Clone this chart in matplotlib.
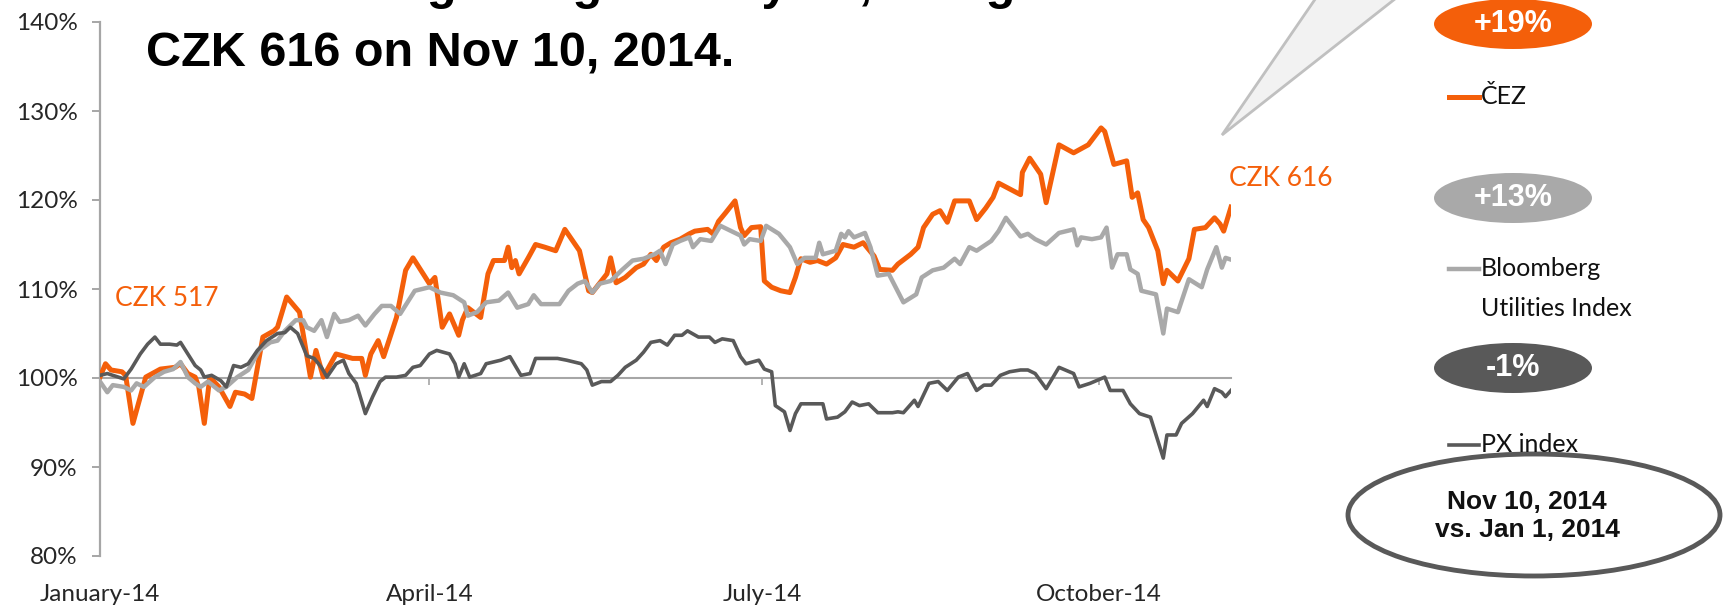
import matplotlib
matplotlib.use("Agg")
import matplotlib.pyplot as plt
import pandas as pd
from matplotlib.patches import Ellipse, Polygon
from matplotlib.lines import Line2D

plt.rcParams['font.family'] = ['Lato', 'DejaVu Sans']

# ---------------- data ----------------
START = pd.Timestamp('2014-01-01')
tick_dates = ['2014-01-01', '2014-04-01', '2014-07-01', '2014-10-01']
tick_labels = ['January-14', 'April-14', 'July-14', 'October-14']
y_ticks = [80, 90, 100, 110, 120, 130, 140]

series_names = ['ČEZ', 'Bloomberg\nUtilities Index', 'PX index']
badge_labels = ['+19%', '+13%', '-1%']

cez_day = [0, 1.5, 3, 6, 7, 9, 12.5, 16.5, 20.5, 22,
           24, 26, 27, 28.5, 30, 32.5, 35.5, 37, 39.5, 41.5,
           44.5, 47.5, 48.5, 51, 54.5, 57.5, 59, 61, 64.5, 69,
           71.5, 72.5, 74, 76, 77.5, 81, 83.5, 85.5, 90, 91.5,
           93.5, 95.5, 98, 99, 100.5, 104, 106, 107.5, 110.5, 111.5,
           112.5, 113.5, 114.5, 117, 119, 121.5, 124.5, 127, 128.5, 131,
           133.5, 134.5, 137, 138.5, 139.5, 141, 143.5, 146.5, 148.5, 150.5,
           152, 154, 156, 158.5, 161, 162.5, 166, 167.5, 169, 171,
           173.5, 175, 176, 178, 180.5, 181.5, 183.5, 186, 188.5, 190,
           191.5, 194, 196, 198.5, 201, 203, 206, 208.5, 211.5, 213,
           216.5, 218, 221.5, 223.5, 225, 227.5, 229.5, 231.5, 233.5, 237.5,
           239.5, 242, 244, 245.5, 251.5, 252, 254, 257, 258.5, 262,
           266, 270, 273.5, 274.5, 277, 280.5, 282, 283.5, 285, 286.5,
           289, 290.5, 291.5, 294.5, 297.5, 299, 302, 304.5, 306, 307,
           309]
cez_val = [100.1, 101.6, 100.9, 100.7, 100.3, 94.9, 100.1, 101.0, 101.2, 101.6,
           100.5, 100.1, 99.0, 94.9, 100.1, 99.0, 96.8, 98.4, 98.2, 97.7,
           104.6, 105.3, 105.7, 109.1, 107.4, 100.1, 103.1, 100.1, 102.7, 102.2,
           102.2, 100.3, 102.7, 104.2, 102.4, 106.8, 112.1, 113.5, 110.6, 111.3,
           105.7, 107.2, 104.8, 106.5, 107.9, 106.8, 111.7, 113.2, 113.2, 114.7,
           112.4, 113.2, 111.7, 113.5, 115.0, 114.7, 114.3, 116.7, 115.8, 114.3,
           109.8, 109.6, 110.9, 111.7, 113.5, 110.7, 111.3, 112.4, 112.8, 113.9,
           113.2, 114.7, 115.2, 115.6, 116.2, 116.5, 116.7, 116.2, 117.6, 118.6,
           119.9, 116.9, 116.0, 116.9, 117.0, 110.9, 110.2, 109.8, 109.6, 111.3,
           113.4, 113.0, 113.2, 112.8, 113.5, 115.0, 114.7, 115.2, 113.7, 112.2,
           112.1, 112.8, 113.9, 114.7, 116.9, 118.4, 118.8, 117.5, 119.9, 119.9,
           117.8, 119.1, 120.3, 121.9, 120.6, 123.1, 124.7, 122.9, 119.7, 126.2,
           125.3, 126.2, 128.1, 127.7, 124.0, 124.4, 120.3, 120.8, 117.8, 116.9,
           114.3, 110.6, 112.1, 110.9, 113.4, 116.7, 116.9, 118.0, 117.3, 116.5,
           119.2]

bbg_day = [0, 2, 3.5, 6.5, 8.5, 10, 12, 15, 17.5, 20,
           22, 24, 26, 27.5, 29.5, 32.5, 34.5, 37.5, 40.5, 43.5,
           46.5, 48.5, 50.5, 53.5, 55.5, 56.5, 58.5, 60.5, 62, 64,
           65.5, 68, 70.5, 72.5, 75, 77, 79.5, 82, 84, 86,
           88, 90, 93, 96.5, 99.5, 100.5, 103, 105.5, 109, 111.5,
           114, 117, 118.5, 120.5, 125.5, 128, 130.5, 132.5, 134.5, 136.5,
           139.5, 142.5, 145.5, 148.5, 151.5, 153, 154.5, 156.5, 158.5, 161,
           162, 164, 167, 169.5, 172.5, 175, 176, 177.5, 180.5, 182,
           185.5, 188.5, 190.5, 192.5, 195.5, 196.5, 197.5, 201, 202.5, 203.5,
           204.5, 206, 209, 210.5, 212.5, 215.5, 219.5, 223, 224.5, 227.5,
           230.5, 233.5, 235, 237.5, 239.5, 243.5, 245.5, 247.5, 251.5, 253.5,
           255.5, 258.5, 262, 266, 267, 268, 271, 273.5, 275, 276.5,
           278, 280.5, 281.5, 283.5, 284.5, 288.5, 290.5, 291.5, 294.5, 297.5,
           301, 302.5, 305, 306.5, 307.5, 309]
bbg_val = [99.6, 98.4, 99.2, 99.0, 98.6, 99.4, 99.0, 100.1, 100.7, 101.0,
           101.8, 100.1, 99.4, 99.0, 99.6, 98.6, 99.0, 100.1, 100.9, 103.1,
           104.0, 104.2, 105.3, 106.5, 106.5, 105.7, 105.3, 106.5, 104.6, 107.2,
           106.3, 106.5, 107.0, 105.9, 107.2, 108.1, 108.1, 107.2, 108.5, 109.8,
           110.0, 110.2, 109.6, 109.3, 108.5, 107.0, 107.4, 108.5, 108.7, 109.6,
           107.9, 108.3, 109.3, 108.3, 108.3, 109.8, 110.6, 110.9, 109.6, 110.6,
           110.9, 112.1, 113.2, 113.4, 113.9, 114.3, 112.8, 115.0, 115.4, 115.8,
           114.7, 115.6, 115.4, 117.1, 116.5, 116.0, 115.0, 115.6, 115.4, 117.1,
           116.2, 114.7, 112.8, 113.5, 113.5, 115.2, 113.9, 114.3, 116.2, 115.8,
           116.5, 115.8, 116.3, 114.7, 111.5, 111.7, 108.5, 109.4, 111.3, 112.1,
           112.4, 113.4, 112.8, 114.7, 114.3, 115.4, 116.5, 118.0, 115.9, 116.2,
           115.6, 115.0, 116.3, 116.7, 114.9, 115.8, 115.6, 115.8, 116.9, 112.4,
           113.9, 113.9, 112.2, 111.7, 109.8, 109.4, 105.0, 107.8, 107.4, 111.1,
           110.2, 112.2, 114.7, 112.4, 113.5, 113.3]

px_day = [0, 2, 5, 6.5, 8.5, 11, 13, 15, 16.5, 19,
          21, 22, 24, 26, 27.5, 28.5, 30.5, 33, 34.5, 36.5,
          38.5, 40.5, 43, 45.5, 48.5, 50.5, 52, 54, 56.5, 58.5,
          60.5, 62, 64.5, 66.5, 68, 70, 72.5, 74.5, 76.5, 78,
          81, 83.5, 85.5, 87.5, 90, 92, 95.5, 97, 98, 99.5,
          101, 104, 105.5, 109.5, 112, 114, 115, 117.5, 119, 122.5,
          125, 127.5, 131.5, 133, 134.5, 137, 139.5, 141.5, 143.5, 146.5,
          148.5, 150.5, 153, 155, 157, 159, 160.5, 163.5, 166.5, 168,
          170, 173, 175, 176.5, 180, 181.5, 183.5, 184.5, 187, 188.5,
          190, 191.5, 195.5, 197.5, 198.5, 201.5, 203.5, 205.5, 207.5, 210,
          212.5, 216.5, 218, 219.5, 222.5, 223.5, 226.5, 229, 231.5, 234.5,
          237, 239.5, 241.5, 243.5, 246, 248.5, 251.5, 253.5, 255.5, 258.5,
          262, 266, 267.5, 270.5, 274.5, 276, 279.5, 281.5, 284, 287,
          290.5, 291.5, 294, 295.5, 298.5, 301.5, 302.5, 304.5, 306.5, 307.5,
          309]
px_val = [100.3, 100.5, 100.1, 99.9, 101.0, 102.7, 103.8, 104.6, 103.8, 103.8,
          103.7, 104.0, 102.7, 101.4, 100.9, 100.1, 100.3, 99.7, 99.0, 101.4,
          101.2, 101.6, 103.1, 104.2, 105.0, 105.1, 105.7, 105.0, 102.5, 102.2,
          101.2, 100.1, 101.6, 102.0, 100.5, 99.4, 96.0, 97.9, 99.6, 100.1,
          100.1, 100.3, 101.2, 101.4, 102.7, 103.1, 102.7, 101.6, 100.1, 101.6,
          100.1, 100.5, 101.6, 102.0, 102.4, 101.0, 100.3, 100.5, 102.2, 102.2,
          102.2, 102.0, 101.6, 100.9, 99.2, 99.6, 99.6, 100.3, 101.2, 102.0,
          102.9, 104.0, 104.2, 103.7, 104.8, 104.8, 105.3, 104.6, 104.6, 104.0,
          104.4, 104.2, 102.4, 101.6, 102.0, 101.0, 100.7, 96.9, 96.2, 94.1,
          96.0, 97.1, 97.1, 97.1, 95.4, 95.6, 96.2, 97.3, 96.9, 97.1,
          96.1, 96.1, 96.2, 96.1, 97.5, 96.8, 99.4, 99.6, 98.6, 100.1,
          100.5, 98.6, 99.2, 99.2, 100.3, 100.7, 100.9, 100.9, 100.5, 98.8,
          101.2, 100.5, 99.0, 99.4, 100.1, 98.6, 98.6, 97.1, 96.0, 95.6,
          91.0, 93.6, 93.6, 94.9, 96.0, 97.5, 96.8, 98.8, 98.4, 97.9,
          98.6]

# ---------------- styling ----------------
W, H = 1724, 605
ORANGE = '#F45F0A'
LGRAY = '#A9A9A9'
DGRAY = '#595959'
AXGRAY = '#A6A6A6'


def fx(px):
    return px / W


def fy(py):
    return 1 - py / H


fig = plt.figure(figsize=(W / 100, H / 100), dpi=100)
fig.patch.set_facecolor('white')

ax = fig.add_axes([fx(100), fy(556), (1231 - 100) / W, (556 - 22) / H])
ax.plot(cez_day, cez_val, color=ORANGE, lw=3.6, solid_joinstyle='round', zorder=3)
ax.plot(bbg_day, bbg_val, color=LGRAY, lw=3.2, solid_joinstyle='round', zorder=3)
ax.plot(px_day, px_val, color=DGRAY, lw=2.6, solid_joinstyle='round', zorder=3)

ax.set_xlim(0, cez_day[-1])
ax.set_ylim(y_ticks[0], y_ticks[-1])

tick_days = [(pd.Timestamp(d) - START).days for d in tick_dates]

for s in ['top', 'right']:
    ax.spines[s].set_visible(False)
ax.spines['left'].set_color(AXGRAY)
ax.spines['left'].set_linewidth(1.6)
ax.spines['bottom'].set_position(('data', 100))
ax.spines['bottom'].set_color(AXGRAY)
ax.spines['bottom'].set_linewidth(1.5)
ax.spines['bottom'].set_zorder(2)

ax.set_xticks(tick_days)
ax.tick_params(axis='x', direction='out', length=5, width=1.2, color=AXGRAY,
               labelbottom=False)
ax.set_yticks(y_ticks, labels=[f'{v}%' for v in y_ticks])
ax.tick_params(axis='y', direction='out', length=6, width=1.4, color=AXGRAY,
               pad=10, labelsize=17.5, labelcolor='#262626')

sec = ax.secondary_xaxis(0)
sec.set_xticks(tick_days, labels=tick_labels)
sec.spines['bottom'].set_visible(False)
sec.tick_params(length=0, pad=20, labelsize=17.5, labelcolor='#262626')

# price annotations
fig.text(fx(115), fy(299), 'CZK 517', fontsize=19, color=ORANGE,
         va='center', ha='left')
fig.text(fx(1229), fy(179), 'CZK 616', fontsize=19, color=ORANGE,
         va='center', ha='left')

# title (partially cropped)
TITLE = 'Liberation Sans'
fig.text(fx(146), fy(-1), 'since the beginning of the year, being',
         fontsize=35, fontweight='bold', family=TITLE, va='baseline', ha='left')
fig.text(fx(146), fy(66), 'CZK 616 on Nov 10, 2014.',
         fontsize=35, fontweight='bold', family=TITLE, va='baseline', ha='left')

# callout tail
tail = Polygon([(fx(1222), fy(135)), (fx(1318), fy(-5)), (fx(1400), fy(-5))],
               closed=True, transform=fig.transFigure, facecolor='#F2F2F2',
               edgecolor='#C0C0C0', lw=2, zorder=1)
fig.add_artist(tail)

# badges and legend
badge_colors = [ORANGE, LGRAY, DGRAY]
badge_y = [24, 198, 368]
legend_y = [97, 269, 445]
line_w = [3.6, 3.2, 2.6]
for lab, col, by, name, ly, lw in zip(badge_labels, badge_colors, badge_y,
                                      series_names, legend_y, line_w):
    e = Ellipse((fx(1513), fy(by)), 158 / W, 50 / H, transform=fig.transFigure,
                facecolor=col, edgecolor='none')
    fig.add_artist(e)
    fig.text(fx(1513), fy(by), lab, color='white', fontsize=22,
             fontweight='bold', family=TITLE, ha='center', va='center')
    fig.add_artist(Line2D([fx(1449), fx(1479)], [fy(ly), fy(ly)], color=col,
                          lw=lw, transform=fig.transFigure))
    for i, part in enumerate(name.split('\n')):
        fig.text(fx(1481), fy(ly + 40 * i), part, fontsize=18, color='#111111',
                 ha='left', va='center')

big = Ellipse((fx(1534), fy(515)), 372 / W, 122 / H, transform=fig.transFigure,
              facecolor='white', edgecolor=DGRAY, lw=3.5)
fig.add_artist(big)
fig.text(fx(1527), fy(516), 'Nov 10, 2014\nvs. Jan 1, 2014', fontsize=19,
         fontweight='bold', family=TITLE, ha='center', va='center',
         linespacing=1.2, color='#111111')

fig.savefig('out.png', dpi=100)
